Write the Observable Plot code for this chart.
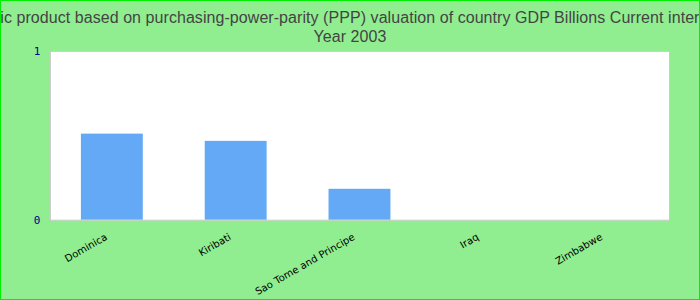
<!DOCTYPE html>
<html>
<head>
<meta charset="utf-8">
<script src="https://cdn.jsdelivr.net/npm/d3@7"></script>
<script src="https://cdn.jsdelivr.net/npm/@observablehq/plot@0.6"></script>
<style>
  html, body { margin: 0; padding: 0; }
  #wrap {
    position: relative; width: 700px; height: 300px; box-sizing: border-box;
    background: #90EE90; border: 1px solid #00ee00; overflow: hidden;
  }
  #title {
    position: absolute; left: 50%; transform: translateX(-50%); top: 7px;
    white-space: nowrap; text-align: center; letter-spacing: 0.06px;
    font-family: "Liberation Sans", Arial, sans-serif; font-size: 16px; line-height: 19px;
    color: #444;
  }
  #chart { position: absolute; left: -1px; top: -1px; }
</style>
</head>
<body>
<div id="wrap">
  <div id="title"></div>
  <div id="chart"></div>
</div>
<script>
const titleLine1 = "Gross domestic product based on purchasing-power-parity (PPP) valuation of country GDP Billions Current international dollar";
const titleLine2 = "Year 2003";
const countries = ["Dominica", "Kiribati", "Sao Tome and Principe", "Iraq", "Zimbabwe"];
const gdpValues = [0.51, 0.467, 0.183, null, null];
const yTicks = [0, 1];

document.getElementById("title").innerHTML = titleLine1 + "<br>" + titleLine2;

const data = countries.map((c, i) => ({country: c, value: gdpValues[i]}));

const chart = Plot.plot({
  width: 700,
  height: 300,
  marginLeft: 50,
  marginRight: 30,
  marginTop: 51,
  marginBottom: 80,
  style: {background: "transparent", overflow: "visible"},
  x: {domain: countries, paddingInner: 0.5, paddingOuter: 0.25},
  y: {domain: [0, 1]},
  marks: [
    Plot.frame({fill: "white", stroke: "#cccccc"}),
    Plot.barY(data.filter(d => d.value != null), {x: "country", y: "value", fill: "#63a9f5"}),
    Plot.axisY({ticks: yTicks, tickSize: 0, tickPadding: 10, tickFormat: d3.format("d"),
      fill: "#00008b", fontFamily: "DejaVu Sans Mono, monospace", fontSize: 11, label: null}),
    Plot.axisX({tickSize: 0, tickRotate: -30, tickPadding: 16, dx: -6,
      fill: "#000", fontFamily: "DejaVu Sans, sans-serif", fontSize: 10, label: null})
  ]
});
document.getElementById("chart").appendChild(chart);
</script>
</body>
</html>
